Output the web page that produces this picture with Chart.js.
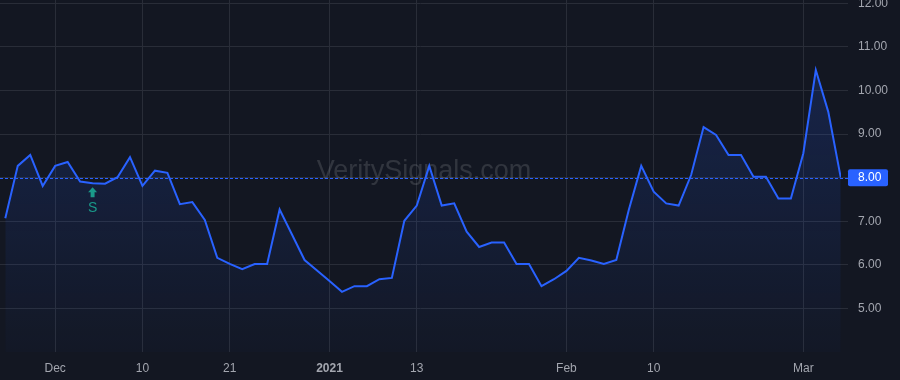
<!DOCTYPE html>
<html lang="en">
<head>
<meta charset="UTF-8">
<title>VeritySignals chart</title>
<script src="https://cdn.jsdelivr.net/npm/chart.js"></script>
<style>
  html, body { margin: 0; padding: 0; background: #131722; }
  #wrap { width: 900px; height: 380px; }
</style>
</head>
<body>
<div id="wrap"><canvas id="chart" width="900" height="380"></canvas></div>
<script>
  // trading days, Nov 24 2020 .. Mar 4 2021
  const dates = [
    '2020-11-24','2020-11-25','2020-11-27','2020-11-30',
    '2020-12-01','2020-12-02','2020-12-03','2020-12-04','2020-12-07','2020-12-08','2020-12-09','2020-12-10','2020-12-11',
    '2020-12-14','2020-12-15','2020-12-16','2020-12-17','2020-12-18','2020-12-21','2020-12-22','2020-12-23','2020-12-24',
    '2020-12-28','2020-12-29','2020-12-30','2020-12-31',
    '2021-01-04','2021-01-05','2021-01-06','2021-01-07','2021-01-08','2021-01-11','2021-01-12','2021-01-13','2021-01-14',
    '2021-01-15','2021-01-19','2021-01-20','2021-01-21','2021-01-22','2021-01-25','2021-01-26','2021-01-27','2021-01-28',
    '2021-01-29','2021-02-01','2021-02-02','2021-02-03','2021-02-04','2021-02-05','2021-02-08','2021-02-09','2021-02-10',
    '2021-02-11','2021-02-12','2021-02-16','2021-02-17','2021-02-18','2021-02-19','2021-02-22','2021-02-23','2021-02-24',
    '2021-02-25','2021-02-26','2021-03-01','2021-03-02','2021-03-03','2021-03-04'
  ];
  const values = [
    7.07, 8.27, 8.52, 7.81,
    8.27, 8.36, 7.91, 7.87, 7.86, 8.01, 8.47, 7.81, 8.16,
    8.11, 7.39, 7.44, 7.03, 6.16, 6.02, 5.90, 6.02, 6.02,
    7.27, 6.69, 6.11, 5.87,
    5.63, 5.38, 5.51, 5.51, 5.67, 5.70, 7.01, 7.36, 8.27,
    7.36, 7.41, 6.76, 6.41, 6.51, 6.51, 6.02, 6.02, 5.51,
    5.67, 5.86, 6.16, 6.10, 6.02, 6.11, 7.26, 8.27, 7.68,
    7.41, 7.36, 8.06, 9.16, 8.98, 8.52, 8.52, 8.02, 8.02,
    7.52, 7.52, 8.56, 10.47, 9.51, 8.00
  ];
  const xTickDates = ['2020-12-01','2020-12-10','2020-12-21','2021-01-04','2021-01-13','2021-02-01','2021-02-10','2021-03-01'];
  const xTickLabels = ['Dec','10','21','2021','13','Feb','10','Mar'];
  const yTicks = [5, 6, 7, 8, 9, 10, 11, 12];
  const signalDate = '2020-12-04';
  const signalText = 'S';
  const watermark = 'VeritySignals.com';

  const FONT = '"Liberation Sans", Arial, sans-serif';
  const BLUE = '#2962FF';
  const TEXT = '#a3a6af';
  const GRID = '#292d38';

  const points = values.map((v, i) => ({ x: i, y: v }));
  const tickIdx = xTickDates.map(d => dates.indexOf(d));

  const overlays = {
    id: 'overlays',
    beforeDatasetsDraw(chart) {
      const { ctx } = chart;
      ctx.save();
      ctx.font = '27px ' + FONT;
      ctx.fillStyle = 'rgba(255,255,255,0.13)';
      ctx.textAlign = 'center';
      ctx.textBaseline = 'middle';
      ctx.fillText(watermark, 424, 172);
      ctx.restore();
    },
    afterDatasetsDraw(chart) {
      const { ctx, chartArea: a, scales } = chart;
      const last = values[values.length - 1];
      const y = Math.round(scales.y.getPixelForValue(last)) + 0.5;
      ctx.save();
      ctx.strokeStyle = BLUE;
      ctx.lineWidth = 1;
      ctx.setLineDash([3, 2]);
      ctx.beginPath();
      ctx.moveTo(a.left, y);
      ctx.lineTo(a.right + 7, y);
      ctx.stroke();
      ctx.setLineDash([]);

      // signal marker
      const si = dates.indexOf(signalDate);
      const sx = scales.x.getPixelForValue(si);
      const sy = scales.y.getPixelForValue(values[si]);
      const top = sy + 4;
      ctx.fillStyle = '#1a9a8a';
      ctx.beginPath();
      ctx.moveTo(sx, top);
      ctx.lineTo(sx + 4.5, top + 5);
      ctx.lineTo(sx + 2, top + 5);
      ctx.lineTo(sx + 2, top + 10);
      ctx.lineTo(sx - 2, top + 10);
      ctx.lineTo(sx - 2, top + 5);
      ctx.lineTo(sx - 4.5, top + 5);
      ctx.closePath();
      ctx.fill();
      ctx.font = '14px ' + FONT;
      ctx.textAlign = 'center';
      ctx.textBaseline = 'middle';
      ctx.fillText(signalText, sx, top + 21);
      ctx.restore();
    },
    afterDraw(chart) {
      const { ctx, chartArea: a, scales } = chart;
      const last = values[values.length - 1];
      const y = scales.y.getPixelForValue(last);
      ctx.save();
      ctx.fillStyle = BLUE;
      ctx.beginPath();
      ctx.roundRect(a.right + 7, y - 8.5, 40, 17, 2);
      ctx.fill();
      ctx.fillStyle = '#ffffff';
      ctx.font = '12px ' + FONT;
      ctx.textAlign = 'left';
      ctx.textBaseline = 'middle';
      ctx.fillText(last.toFixed(2), a.right + 17, y + 0.5);
      ctx.restore();
    }
  };

  new Chart(document.getElementById('chart'), {
    type: 'line',
    data: {
      datasets: [{
        data: points,
        borderColor: BLUE,
        borderWidth: 2,
        pointRadius: 0,
        tension: 0,
        fill: 'start',
        backgroundColor: (c) => {
          const a = c.chart.chartArea;
          if (!a) return 'rgba(41,98,255,0.1)';
          const g = c.chart.ctx.createLinearGradient(0, a.top, 0, a.bottom);
          g.addColorStop(0, 'rgba(41,98,255,0.22)');
          g.addColorStop(1, 'rgba(41,98,255,0.02)');
          return g;
        }
      }]
    },
    options: {
      responsive: false,
      animation: false,
      layout: { padding: 0 },
      plugins: { legend: { display: false }, tooltip: { enabled: false } },
      scales: {
        x: {
          type: 'linear',
          min: -0.425,
          max: 67.02,
          afterBuildTicks: s => { s.ticks = tickIdx.map(v => ({ value: v })); },
          afterFit: s => { s.height = 28; s.paddingLeft = 0; s.paddingRight = 0; },
          grid: { color: GRID, drawTicks: false },
          border: { display: false },
          ticks: {
            padding: 9,
            color: TEXT,
            maxRotation: 0,
            autoSkip: false,
            font: c => {
              const bold = c && c.tick && xTickLabels[tickIdx.indexOf(c.tick.value)] === '2021';
              return { family: FONT, size: 12, weight: bold ? 'bold' : 'normal' };
            },
            callback: v => xTickLabels[tickIdx.indexOf(v)]
          }
        },
        y: {
          position: 'right',
          min: 4.0,
          max: 12.076,
          afterBuildTicks: s => { s.ticks = yTicks.map(v => ({ value: v })); },
          afterFit: s => { s.width = 59; s.paddingTop = 0; s.paddingBottom = 0; },
          grid: { color: GRID, tickLength: 7, tickColor: GRID },
          border: { display: false },
          ticks: {
            padding: 10,
            color: TEXT,
            font: { family: FONT, size: 12 },
            callback: v => v.toFixed(2)
          }
        }
      }
    },
    plugins: [overlays]
  });
</script>
</body>
</html>
